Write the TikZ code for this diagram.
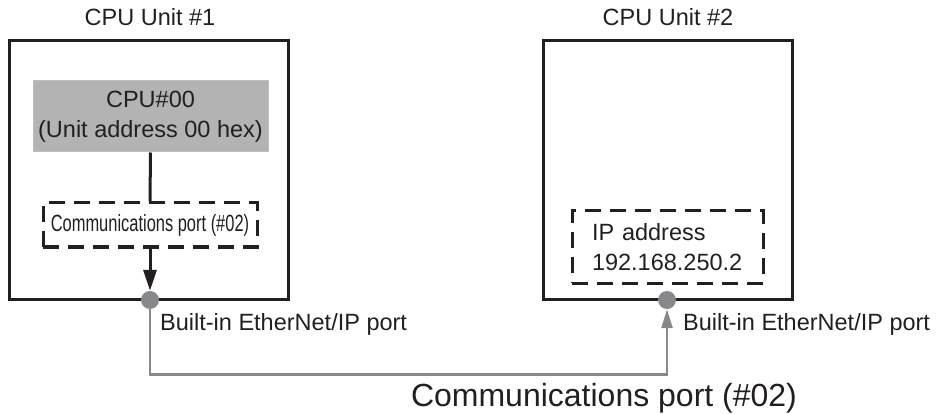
\documentclass[tikz,border=0pt]{standalone}
\usepackage{fontspec}
\setmainfont{Liberation Sans}
\usetikzlibrary{arrows.meta,positioning}
\definecolor{ink}{RGB}{35,31,32}
\definecolor{cpugray}{RGB}{179,179,179}
\definecolor{wiregray}{RGB}{135,136,139}
\tikzset{
  lbl/.style={font=\fontsize{23.5}{30}\selectfont, text=ink, inner sep=0pt},
  unitbox/.style={draw=ink, line width=3pt, inner sep=0pt},
  cpubox/.style={lbl, fill=cpugray, draw=gray!50, line width=1pt, align=center,
    minimum width=235, minimum height=71},
  portbox/.style={lbl, draw=ink, line width=3pt, dash pattern=on 16pt off 9pt},
  portdot/.style={circle, fill=wiregray, minimum size=18pt, inner sep=0pt},
}
\begin{document}
\begin{tikzpicture}[x=1pt,y=-1pt]
  \useasboundingbox (0,0) rectangle (937,414);

  % CPU Unit #1
  \node[unitbox, minimum width=279, minimum height=259] (unitA) at (149,170) {};
  \node[lbl, anchor=base] (titleA) at (150,26) {CPU Unit \#1};
  \node[cpubox] (cpu00) at (150.5,116.5) {CPU\#00\\(Unit address 00 hex)};
  \node[portbox, minimum width=214, minimum height=44] (portA) at (150,225)
    {\scalebox{0.7}[1]{Communications port (\#02)}};
  \node[portdot] (dotA) at (150,300) {};

  % CPU Unit #2
  \node[unitbox, minimum width=249, minimum height=259] (unitB) at (668,170) {};
  \node[lbl, anchor=base] (titleB) at (668,26) {CPU Unit \#2};
  \node[portbox, text width=151, inner xsep=20pt, minimum height=72, align=left] (ipB)
    at (667.5,247) {IP address\\192.168.250.2};
  \node[portdot] (dotB) at (667,300) {};

  % Verbindungen
  \draw[ink, line width=3pt] (cpu00.south) -- (portA.north);
  \draw[ink, line width=3pt, -{Triangle[length=21pt,width=13pt]}] (portA.south) -- (dotA.north);
  \draw[wiregray, line width=2.6pt, -{Triangle[length=19pt,width=11pt]}]
    (dotA.south) -- ++(0,65) -| (dotB.south);

  % Beschriftungen
  \node[lbl, anchor=base west] (ethA) at (160,330) {Built-in EtherNet/IP port};
  \node[lbl, anchor=base west] (ethB) at (683,330) {Built-in EtherNet/IP port};
  \node[lbl, anchor=base, font=\fontsize{32}{38}\selectfont] (commLbl) at (604,406)
    {Communications port (\#02)};
\end{tikzpicture}
\end{document}
